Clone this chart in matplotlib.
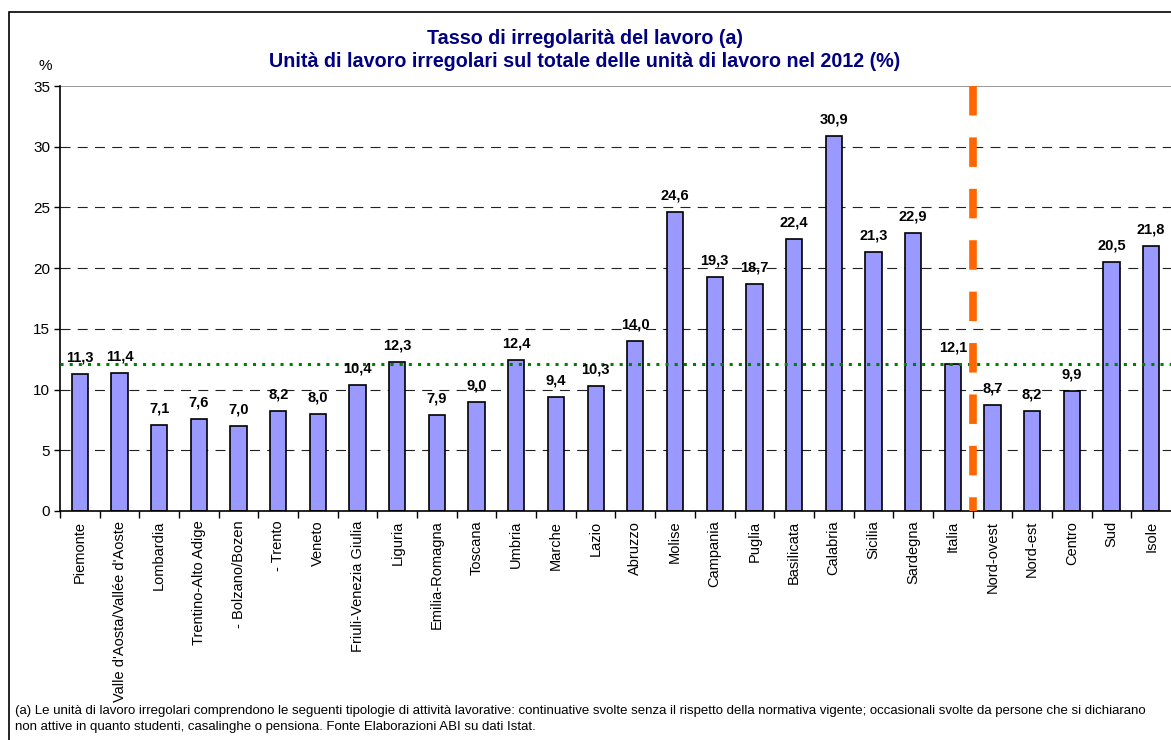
import matplotlib
matplotlib.use("Agg")
import matplotlib.pyplot as plt
from matplotlib.patches import Rectangle

plt.rcParams['font.family'] = ['Liberation Sans', 'DejaVu Sans']

regions = ["Piemonte", "Valle d'Aosta/Vallée d'Aoste", "Lombardia", "Trentino-Alto Adige",
           "- Bolzano/Bozen", "- Trento", "Veneto", "Friuli-Venezia Giulia", "Liguria",
           "Emilia-Romagna", "Toscana", "Umbria", "Marche", "Lazio", "Abruzzo", "Molise",
           "Campania", "Puglia", "Basilicata", "Calabria", "Sicilia", "Sardegna", "Italia",
           "Nord-ovest", "Nord-est", "Centro", "Sud", "Isole"]
rates = [11.3, 11.4, 7.1, 7.6, 7.0, 8.2, 8.0, 10.4, 12.3, 7.9, 9.0, 12.4, 9.4, 10.3, 14.0,
         24.6, 19.3, 18.7, 22.4, 30.9, 21.3, 22.9, 12.1, 8.7, 8.2, 9.9, 20.5, 21.8]
italia_rate = 12.1
yticks = [0, 5, 10, 15, 20, 25, 30, 35]

title = "Tasso di irregolarità del lavoro (a)\nUnità di lavoro irregolari sul totale delle unità di lavoro nel 2012 (%)"
note = ("(a) Le unità di lavoro irregolari comprendono le seguenti tipologie di attività lavorative: "
        "continuative svolte senza il rispetto della normativa vigente; occasionali svolte da persone che si dichiarano\n"
        "non attive in quanto studenti, casalinghe o pensiona. Fonte Elaborazioni ABI su dati Istat.")

W, H = 1171, 740
fig = plt.figure(figsize=(W / 100, H / 100), dpi=100)
ax = fig.add_axes([60 / W, 1 - 511 / H, 1 - 60 / W, (511 - 86) / H])

# outer chart frame (cut off at right and bottom like the original)
fig.patches.append(Rectangle((9 / W, -0.05), 1.2, 1 - 12 / H + 0.05, transform=fig.transFigure,
                             fill=False, edgecolor='black', linewidth=1.2, clip_on=False))

x = list(range(len(regions)))
ax.set_ylim(0, 35)
ax.set_xlim(-0.5, len(regions) - 0.5)

for y in yticks[1:-1]:
    ax.axhline(y, color='#222222', linestyle=(0, (9, 6.5)), linewidth=0.8, zorder=0)
ax.axhline(35, color='#888888', linewidth=1.2, zorder=0)

ax.bar(x, rates, width=0.41, color='#9999FF', edgecolor='black', linewidth=1.2, zorder=2)

for xi, v in zip(x, rates):
    ax.annotate(f"{v:.1f}".replace('.', ','), (xi, v), xytext=(0, 9), textcoords='offset points',
                ha='center', va='baseline', fontsize=10.5, fontweight='bold', zorder=4)

ax.axhline(italia_rate, color='#008000', linestyle=(0, (1, 2)), linewidth=2.2, zorder=3)
ax.plot([22.5, 22.5], [35, 0], color='#FF6600', linestyle=(0, (3.86, 2.87)), linewidth=5.5,
        dash_capstyle='butt', zorder=3, clip_on=False)

ax.set_yticks(yticks)
ax.set_yticklabels([str(t) for t in yticks], fontsize=11)
ax.set_xticks(x)
ax.set_xticklabels(regions, rotation=90, fontsize=10.5)
ax.tick_params(axis='x', length=0, pad=7)
ax.set_xticks([i + 0.5 for i in range(-1, len(regions) - 1)], minor=True)
ax.tick_params(axis='x', which='minor', length=5, direction='out', width=1)
ax.tick_params(axis='y', length=4, direction='out', width=1, pad=3)

for s in ['top', 'right']:
    ax.spines[s].set_visible(False)
ax.spines['left'].set_linewidth(1.2)
ax.spines['bottom'].set_linewidth(1.2)

fig.text(585 / W, 1 - 50 / H, title, ha='center', va='center', fontsize=14.2,
         fontweight='bold', color='#000080', linespacing=1.25)
fig.text(45 / W, 1 - 66 / H, "%", ha='center', va='center', fontsize=11)
fig.text(15 / W, 1 - 719 / H, note, ha='left', va='center', fontsize=9.5, linespacing=1.5)

fig.savefig("out.png", dpi=100)
